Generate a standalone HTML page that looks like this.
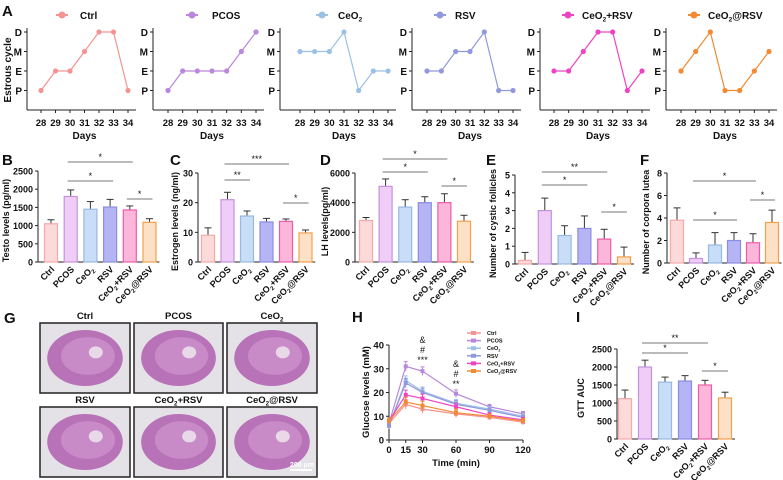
<!DOCTYPE html>
<html><head><meta charset="utf-8"><style>
html,body{margin:0;padding:0;background:#fff}
svg{display:block;font-family:"Liberation Sans",Arial,sans-serif;font-weight:bold}
</style></head><body>
<svg id="fig" width="783" height="480" viewBox="0 0 783 480" xmlns="http://www.w3.org/2000/svg"></svg>
<script>
// ---------- data ----------
const groups = ["Ctrl","PCOS","CeO2","RSV","CeO2+RSV","CeO2@RSV"];
const days = [28,29,30,31,32,33,34];
const stages = ["P","E","M","D"];
const cycCtrl = [1,2,2,3,4,4,1];
const cycPCOS = [1,2,2,2,2,3,4];
const cycCeO2 = [3,3,3,4,1,2,2];
const cycRSV = [2,2,3,3,4,1,1];
const cycCeRSV = [2,2,3,4,4,1,2];
const cycCeAtRSV = [2,3,4,1,1,2,3];
const testoVals = [1050,1800,1450,1510,1430,1090];
const testoErr = [110,180,210,210,110,100];
const testoTicks = [0,500,1000,1500,2000,2500];
const estroVals = [9,21,15.5,13.5,13.7,9.8];
const estroErr = [2.5,2.5,1.7,1.2,0.8,1];
const estroTicks = [0,10,20,30];
const lhVals = [2800,5100,3700,4000,4000,2750];
const lhErr = [200,500,500,400,600,400];
const lhTicks = [0,2000,4000,6000];
const cystVals = [0.2,3.0,1.6,2.0,1.4,0.4];
const cystErr = [0.45,0.7,0.55,0.7,0.55,0.55];
const cystTicks = [0,1,2,3,4,5];
const clVals = [3.8,0.4,1.6,2.0,1.8,3.6];
const clErr = [1.1,0.5,1.1,0.7,0.8,1.1];
const clTicks = [0,2,4,6,8];
const gttVals = [1120,2000,1580,1610,1500,1140];
const gttErr = [240,190,140,150,130,160];
const gttTicks = [0,500,1000,1500,2000,2500];
const times = [0,15,30,60,90,120];
const timeTicks = [0,15,30,60,90,120];
const gluTicks = [0,10,20,30,40];
const gluCtrl = [7,15,13,11,9.5,7.5];
const gluPCOS = [7,31,29,19.5,14,11];
const gluCeO2 = [6,25,20.5,15.5,13,10];
const gluRSV = [6,24,20,15,12.5,9.5];
const gluCeRSV = [8,19,17.5,14,10.5,8.5];
const gluCeAtRSV = [8,16,14.5,11.5,10,8];
const gluErr = [1.2,2,1.8,1.6,1,1];

// ---------- styles ----------
const lineCol = ["#f59393","#b987dc","#9cc0e6","#9298de","#ee44c4","#f38a33"];
const fillCol = ["#fddada","#efcdf6","#c8ddf7","#b5b5f6","#fcb6da","#fde1c6"];
const strokeCol = ["#f7a8a8","#c592dc","#97b9e2","#8c8ce0","#ee5ca9","#f5a04e"];
const NS="http://www.w3.org/2000/svg";
const svg=document.getElementById('fig');
function mk(tag,attrs,parent){const e=document.createElementNS(NS,tag);for(const k in attrs)e.setAttribute(k,attrs[k]);(parent||svg).appendChild(e);return e;}
function label(txt,x,y,size,anchor,parent,rot){
  const t=mk('text',{x:x,y:y,'font-size':size,'text-anchor':anchor||'start',fill:'#111'},parent);
  if(rot!==undefined)t.setAttribute('transform','rotate('+rot+' '+x+' '+y+')');
  const m=txt.match(/^CeO2(.*)$/);
  if(m){t.appendChild(document.createTextNode('CeO'));const s=mk('tspan',{'font-size':size*0.65,dy:size*0.25},t);s.textContent='2';const r=mk('tspan',{dy:-size*0.25},t);r.textContent=m[1];}
  else t.textContent=txt;
  return t;
}
function panelLetter(c,x,y){const t=label(c,x,y,15,'start');}

// ---------- panel A ----------
const cycData=[cycCtrl,cycPCOS,cycCeO2,cycRSV,cycCeRSV,cycCeAtRSV];
const cycLayout=[[27,41,128,62,80],[153,168,256,192,212],[280,300,388,322,338],[412,427,513,440,455],[540,554,642,568,582],[666,681,769,694,708]];
const stageY=s=>110-s*19.5;
panelLetter('A',2,16);
cycLayout.forEach((L,gi)=>{
  const g=mk('g',{});
  
  
  const [ax,x0,x1,lx,tx]=L;
  const dx=d=>x0+(d-days[0])*(x1-x0)/(days[days.length-1]-days[0]);
  mk('line',{x1:ax,y1:28,x2:ax,y2:110,stroke:'#222','stroke-width':1},g);
  mk('line',{x1:ax,y1:110,x2:x1+8,y2:110,stroke:'#222','stroke-width':1},g);
  stages.forEach((s,i)=>{const y=stageY(i+1);mk('line',{x1:ax-3,y1:y,x2:ax,y2:y,stroke:'#222'},g);label(s,ax-5,y+4,10,'end',g);});
  days.forEach(d=>{mk('line',{x1:dx(d),y1:110,x2:dx(d),y2:113,stroke:'#222'},g);label(String(d),dx(d),126,9.5,'middle',g);});
  label('Days',(x0+x1)/2,139,10,'middle',g);
  const pts=cycData[gi].map((v,i)=>dx(days[i])+','+stageY(v)).join(' ');
  mk('polyline',{points:pts,fill:'none',stroke:lineCol[gi],'stroke-width':1.2},g);
  cycData[gi].forEach((v,i)=>{const c=mk('circle',{cx:dx(days[i]),cy:stageY(v),r:2.6,fill:lineCol[gi]},g);});
  const lg=mk('g',{},g);
  mk('line',{x1:lx-6,y1:15,x2:lx+6,y2:15,stroke:lineCol[gi],'stroke-width':2},lg);
  mk('circle',{cx:lx,cy:15,r:3.5,fill:lineCol[gi]},lg);
  label(groups[gi],tx,19,10,'start',lg);
});
{const t=label('Estrous cycle',11,70,10,'middle',svg,-90);}

// ---------- bar panels ----------
function barPanel(o){
  const g=mk('g',{});
  
  
  const ymax=o.ticks[o.ticks.length-1];
  const Y=v=>o.y0-(v/ymax)*(o.y0-o.yTop);
  const X=i=>o.cx0+i*o.step;
  mk('line',{x1:o.ax,y1:o.yTop,x2:o.ax,y2:o.y0,stroke:'#222'},g);
  mk('line',{x1:o.ax,y1:o.y0,x2:X(5)+o.step/2,y2:o.y0,stroke:'#222'},g);
  o.ticks.forEach(t=>{mk('line',{x1:o.ax-3,y1:Y(t),x2:o.ax,y2:Y(t),stroke:'#222'},g);label(String(t),o.ax-5,Y(t)+3.5,9,'end',g);});
  o.vals.forEach((v,i)=>{
    const w=13;
    const top=Y(v+o.err[i]);
    mk('line',{x1:X(i),y1:Y(v),x2:X(i),y2:top,stroke:'#333','stroke-width':1},g);
    mk('line',{x1:X(i)-3.5,y1:top,x2:X(i)+3.5,y2:top,stroke:'#333','stroke-width':1},g);
    const r=mk('rect',{x:X(i)-w/2,y:Y(v),width:w,height:o.y0-Y(v),fill:fillCol[i],stroke:strokeCol[i],'stroke-width':1.2},g);
    
    
    label(groups[i],X(i)+4,o.y0+8,9,'end',g,-45);
  });
  o.sig.forEach(s=>{
    mk('line',{x1:X(s[0])-3,y1:s[2],x2:X(s[1])+3,y2:s[2],stroke:'#777','stroke-width':1},g);
    label(s[3],(X(s[0])+X(s[1]))/2,s[2]-2,9,'middle',g).setAttribute('font-weight','normal');
  });
  const yt=label(o.ytitle,o.ytx,(o.yTop+o.y0)/2+4,9,'middle',g,-90);
  
}
panelLetter('B',2,165);
barPanel({name:'testo-chart',ax:38,y0:262,yTop:171,cx0:51,step:19.7,vals:testoVals,err:testoErr,ticks:testoTicks,ytitle:'Testo levels (pg/ml)',ytx:9,
  sig:[[1,4,162,'*'],[1,3,181,'*'],[4,5,199,'*']]});
panelLetter('C',170,165);
barPanel({name:'estrogen-chart',ax:198,y0:262,yTop:173,cx0:208,step:19.5,vals:estroVals,err:estroErr,ticks:estroTicks,ytitle:'Estrogen levels (ng/ml)',ytx:178,
  sig:[[1,4,164,'***'],[1,2,180,'**'],[4,5,203,'*']]});
panelLetter('D',320,165);
barPanel({name:'lh-chart',ax:355,y0:262,yTop:173,cx0:366,step:19.6,vals:lhVals,err:lhErr,ticks:lhTicks,ytitle:'LH levels(pg/ml)',ytx:328,
  sig:[[1,4,159,'*'],[1,3,172,'*'],[4,5,186,'*']]});
panelLetter('E',486,165);
barPanel({name:'cystic-follicles-chart',ax:515,y0:264,yTop:175,cx0:525,step:19.8,vals:cystVals,err:cystErr,ticks:cystTicks,ytitle:'Number of cystic follicles',ytx:496,
  sig:[[1,4,172,'**'],[1,3,185,'*'],[4,5,212,'*']]});
panelLetter('F',640,165);
barPanel({name:'corpora-lutea-chart',ax:667,y0:263,yTop:173,cx0:677,step:19,vals:clVals,err:clErr,ticks:clTicks,ytitle:'Number of corpora lutea',ytx:649,
  sig:[[1,4,181,'*'],[1,3,220,'*'],[4,5,200,'*']]});
panelLetter('I',576,322);
barPanel({name:'gtt-auc-chart',ax:617,y0:439,yTop:349,cx0:625,step:20,vals:gttVals,err:gttErr,ticks:gttTicks,ytitle:'GTT AUC',ytx:584,
  sig:[[1,4,343,'**'],[1,3,353,'*'],[4,5,371,'*']]});

// ---------- panel G (histology) ----------
panelLetter('G',4,323);
const boxes=[[40,323,90,70],[134,323,89,70],[227,323,90,70],[40,407,90,70],[134,407,89,70],[227,407,90,70]];
boxes.forEach((b,i)=>{
  const g=mk('g',{});
  
  
  const [x,y,w,h]=b;
  mk('rect',{x:x,y:y,width:w,height:h,fill:'#e4e2e6',stroke:'#222','stroke-width':1.5},g);
  mk('ellipse',{cx:x+w/2,cy:y+h/2,rx:w*0.42,ry:h*0.4,fill:'#b873b8'},g);
  mk('ellipse',{cx:x+w/2+3,cy:y+h/2-2,rx:w*0.3,ry:h*0.27,fill:'#c98ac8'},g);
  mk('ellipse',{cx:x+w*0.62,cy:y+h*0.42,rx:7,ry:6,fill:'#e8d8e8'},g);
  label(groups[i],x+w/2,y-4,9.5,'middle',g);
});
{const s=mk('line',{x1:290,y1:470,x2:312,y2:470,stroke:'#fff','stroke-width':2});
 const t=label('200 μm',302,467,7,'middle');t.setAttribute('fill','#fff');}

// ---------- panel H (GTT line chart) ----------
panelLetter('H',352,322);
{
  const g=mk('g',{});
  
  
  const ax=389,y0=440,yTop=345;
  const X=t=>ax+t*(523-ax)/120;
  const Y=v=>y0-v*(y0-yTop)/40;
  mk('line',{x1:ax,y1:yTop,x2:ax,y2:y0,stroke:'#222'},g);
  mk('line',{x1:ax,y1:y0,x2:X(120),y2:y0,stroke:'#222'},g);
  gluTicks.forEach(t=>{mk('line',{x1:ax-3,y1:Y(t),x2:ax,y2:Y(t),stroke:'#222'},g);label(String(t),ax-5,Y(t)+3.5,9.5,'end',g);});
  timeTicks.forEach(t=>{mk('line',{x1:X(t),y1:y0,x2:X(t),y2:y0+3,stroke:'#222'},g);label(String(t),X(t),y0+13,9.5,'middle',g);});
  label('Time (min)',456,466,9.5,'middle',g);
  label('Glucose levels (mM)',369,392,9.5,'middle',g,-90);
  const series=[gluCtrl,gluPCOS,gluCeO2,gluRSV,gluCeRSV,gluCeAtRSV];
  series.forEach((s,gi)=>{
    const sg=mk('g',{},g);
    
    
    mk('polyline',{points:s.map((v,i)=>X(times[i])+','+Y(v)).join(' '),fill:'none',stroke:lineCol[gi],'stroke-width':1.2},sg);
    s.forEach((v,i)=>{
      mk('line',{x1:X(times[i]),y1:Y(v-gluErr[i]),x2:X(times[i]),y2:Y(v+gluErr[i]),stroke:lineCol[gi]},sg);
      mk('line',{x1:X(times[i])-2,y1:Y(v+gluErr[i]),x2:X(times[i])+2,y2:Y(v+gluErr[i]),stroke:lineCol[gi]},sg);
      mk('rect',{x:X(times[i])-2,y:Y(v)-2,width:4,height:4,fill:lineCol[gi]},sg);
    });
    const ly=333+gi*7.6;
    mk('line',{x1:467,y1:ly,x2:481,y2:ly,stroke:lineCol[gi],'stroke-width':1.5},sg);
    mk('rect',{x:471,y:ly-2,width:5,height:4,fill:lineCol[gi]},sg);
    label(groups[gi],487,ly+2,5.5,'start',sg);
  });
  [['&',343],['#',353],['***',363]].forEach(a=>label(a[0],X(30),a[1],9,'middle',g).setAttribute('font-weight','normal'));
  [['&',367],['#',377],['**',387]].forEach(a=>label(a[0],X(60),a[1],9,'middle',g).setAttribute('font-weight','normal'));
}
</script>
</body></html>
